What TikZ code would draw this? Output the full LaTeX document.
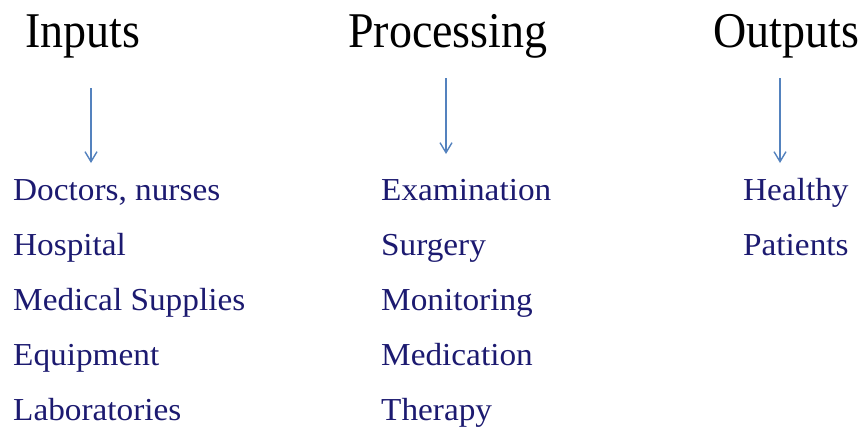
\documentclass[tikz,border=0pt]{standalone}
\usepackage{fontspec}
\setmainfont{Liberation Serif}
\newfontfamily\headfont[FakeStretch=0.92]{Liberation Serif}
\newfontfamily\itemfont[FakeStretch=1.04]{Liberation Serif}
\usetikzlibrary{arrows.meta}
\definecolor{itemblue}{RGB}{28,26,112}
\definecolor{arrowblue}{RGB}{84,130,190}

\begin{document}
\begin{tikzpicture}[x=1pt,y=-1pt,
		head/.style={anchor=base west,inner sep=0pt,font=\headfont\fontsize{50}{50}\selectfont},
		entry/.style={anchor=base west,inner sep=0pt,text=itemblue,font=\itemfont\fontsize{32}{32}\selectfont},
		flow/.style={draw=arrowblue,line width=1.4pt,-{Straight Barb[length=10pt,width=12pt]}}]
			\useasboundingbox (0,0) rectangle (866,429);
			% column headings
			\node[head] (inputs) at (25,47) {Inputs};
			\node[head] (processing) at (348,47) {Processing};
			\node[head] (outputs) at (713,47) {Outputs};
			% arrows down to the lists
			\coordinate (in-top) at (91,88);
			\coordinate (in-end) at (91,163);
			\coordinate (pr-top) at (446,78);
			\coordinate (pr-end) at (446,154);
			\coordinate (out-top) at (780,78);
			\coordinate (out-end) at (780,163);
			\draw[flow] (in-top) -- (in-end);
			\draw[flow] (pr-top) -- (pr-end);
			\draw[flow] (out-top) -- (out-end);
			% inputs
			\node[entry] (doctors) at (13,200.5) {Doctors, nurses};
			\node[entry] (hospital) at (13,255.5) {Hospital};
			\node[entry] (supplies) at (13,310.5) {Medical Supplies};
			\node[entry] (equipment) at (13,365.5) {Equipment};
			\node[entry] (labs) at (13,420.5) {Laboratories};
			% processing
			\node[entry] (exam) at (381,200.5) {Examination};
			\node[entry] (surgery) at (381,255.5) {Surgery};
			\node[entry] (monitoring) at (381,310.5) {Monitoring};
			\node[entry] (medication) at (381,365.5) {Medication};
			\node[entry] (therapy) at (381,420.5) {Therapy};
			% outputs
			\node[entry] (healthy) at (743,200.5) {Healthy};
			\node[entry] (patients) at (743,255.5) {Patients};
		\end{tikzpicture}
\end{document}
